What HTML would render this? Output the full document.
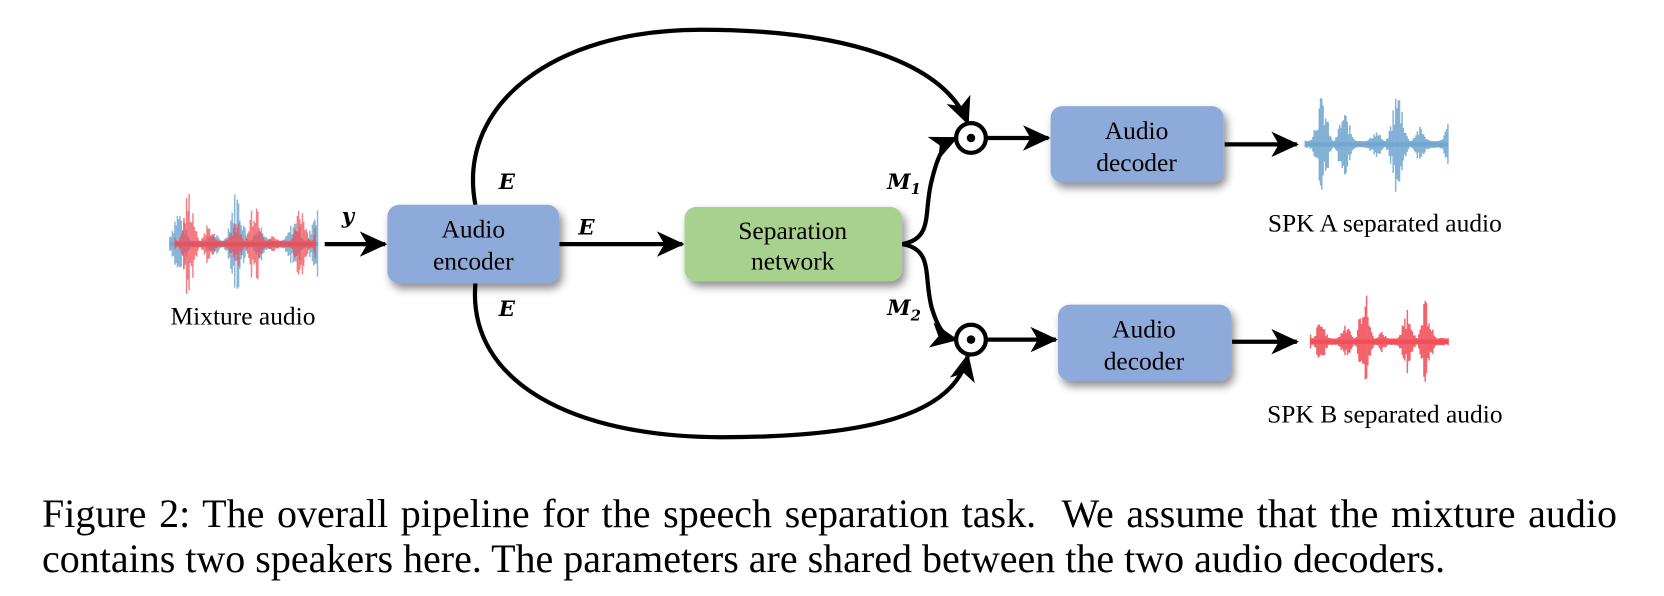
<!DOCTYPE html>
<html><head><meta charset="utf-8"><style>
html,body{margin:0;padding:0;background:#fff;}
body{width:1664px;height:596px;overflow:hidden;position:relative;font-family:"Liberation Serif",serif;}
svg{position:absolute;left:0;top:0;}
svg text{font-family:"Liberation Serif",serif;}
svg text.m{font-family:"DejaVu Serif",serif;font-weight:bold;font-style:italic;}
.cap{position:absolute;left:42px;font-size:40px;line-height:46px;color:#000;white-space:nowrap;font-family:"Liberation Serif",serif;}
</style></head><body>
<svg width="1664" height="596" viewBox="0 0 1664 596">
<defs>
<marker id="ah2" markerWidth="26" markerHeight="26" refX="24" refY="13" orient="auto" markerUnits="userSpaceOnUse" viewBox="0 0 26 26">
<path d="M0,1 L26,13 L0,25 L7,13 Z" fill="#000"/></marker>
<filter id="sh" x="-20%" y="-20%" width="150%" height="160%"><feDropShadow dx="3" dy="5" stdDeviation="4" flood-color="#000" flood-opacity="0.45"/></filter>
</defs>
<g transform="scale(1.0612)">
<g id="waves"></g>
<g stroke="#000" stroke-width="4" fill="none">
<line x1="306" y1="230" x2="363" y2="230" marker-end="url(#ah2)"/>
<line x1="527" y1="230" x2="643" y2="230" marker-end="url(#ah2)"/>
<line x1="929" y1="130" x2="988" y2="130" marker-end="url(#ah2)"/>
<line x1="929" y1="320" x2="995" y2="320" marker-end="url(#ah2)"/>
<line x1="1154" y1="136" x2="1222" y2="136" marker-end="url(#ah2)"/>
<line x1="1161" y1="322" x2="1222" y2="322" marker-end="url(#ah2)"/>
<path d="M448,193 C430,100 520,28 660,28 C800,28 890,60 912,116" marker-end="url(#ah2)"/>
<path d="M448,267 C440,360 540,412 680,412 C820,412 900,390 912,335" marker-end="url(#ah2)"/>
<path d="M850,230 C880,225 870,200 878,170 C884,145 890,135 901,130" marker-end="url(#ah2)"/>
<path d="M850,230 C880,235 870,260 878,290 C884,310 890,318 901,320" marker-end="url(#ah2)"/>
</g>
<circle cx="915" cy="130" r="14" fill="#fff" stroke="#000" stroke-width="4"/>
<circle cx="915" cy="130" r="4" fill="#000"/>
<circle cx="915" cy="320" r="14" fill="#fff" stroke="#000" stroke-width="4"/>
<circle cx="915" cy="320" r="4" fill="#000"/>
<g filter="url(#sh)">
<rect x="365" y="193" width="162" height="74" rx="11" fill="#8eaadb"/>
<rect x="645" y="195" width="205" height="70" rx="11" fill="#a9d18e"/>
<rect x="990" y="100" width="163" height="72" rx="11" fill="#8eaadb"/>
<rect x="997" y="287" width="163" height="72" rx="11" fill="#8eaadb"/>
</g>
<g font-size="24" text-anchor="middle" fill="#000">
<text x="446" y="224">Audio</text><text x="446" y="254">encoder</text>
<text x="747" y="225">Separation</text><text x="747" y="254">network</text>
<text x="1071" y="131">Audio</text><text x="1071" y="161">decoder</text>
<text x="1078" y="318">Audio</text><text x="1078" y="348">decoder</text>
<text x="229" y="306">Mixture audio</text>
<text x="1305" y="218">SPK A separated audio</text>
<text x="1305" y="398">SPK B separated audio</text>
</g>
<g font-size="20" fill="#000">
<text class="m" x="322" y="210">y</text>
<text class="m" x="470" y="178">E</text>
<text class="m" x="545" y="221">E</text>
<text class="m" x="470" y="298">E</text>
<text class="m" x="836" y="178">M<tspan font-size="14" dy="5">1</tspan></text>
<text class="m" x="836" y="297">M<tspan font-size="14" dy="5">2</tspan></text>
</g>
</g>
</svg>
<div class="cap" style="top:491px;width:1575px;text-align:justify;text-align-last:justify;white-space:normal">Figure 2: The overall pipeline for the speech separation task. &nbsp;We assume that the mixture audio</div>
<div class="cap" style="top:536px">contains two speakers here. The parameters are shared between the two audio decoders.</div>
<script>
(function(){
var g=document.getElementById('waves');var ns='http://www.w3.org/2000/svg';
var s=7;function r(){s=(s*9301+49297)%233280;return s/233280;}
function wave(x0,x1,cy,maxh,col,op,f){
  var bw=document.createElementNS(ns,'line');
  bw.setAttribute('x1',x0);bw.setAttribute('x2',x1);bw.setAttribute('y1',cy);bw.setAttribute('y2',cy);
  bw.setAttribute('stroke',col);bw.setAttribute('stroke-width',4);bw.setAttribute('opacity',op);g.appendChild(bw);
  for(var x=x0;x<x1;x+=1.2){
    var e=Math.abs(Math.sin(x*f)*Math.sin(x*f*0.37+1));
    var env=Math.pow(e,2)*(0.3+0.7*r());
    var h=3+env*maxh;
    var l=document.createElementNS(ns,'line');
    l.setAttribute('x1',x);l.setAttribute('x2',x);l.setAttribute('y1',cy-h);l.setAttribute('y2',cy+h*(0.8+0.3*r()));
    l.setAttribute('stroke',col);l.setAttribute('stroke-width',1.4);l.setAttribute('opacity',op);g.appendChild(l);
  }
}
wave(160,300,230,50,'#6fa6cf',0.8,0.12);
wave(165,298,230,52,'#f04b55',0.7,0.15);
wave(1230,1365,136,50,'#6fa6cf',0.85,0.13);
wave(1235,1365,322,48,'#f04b55',0.85,0.16);
})();
</script>
</body></html>
